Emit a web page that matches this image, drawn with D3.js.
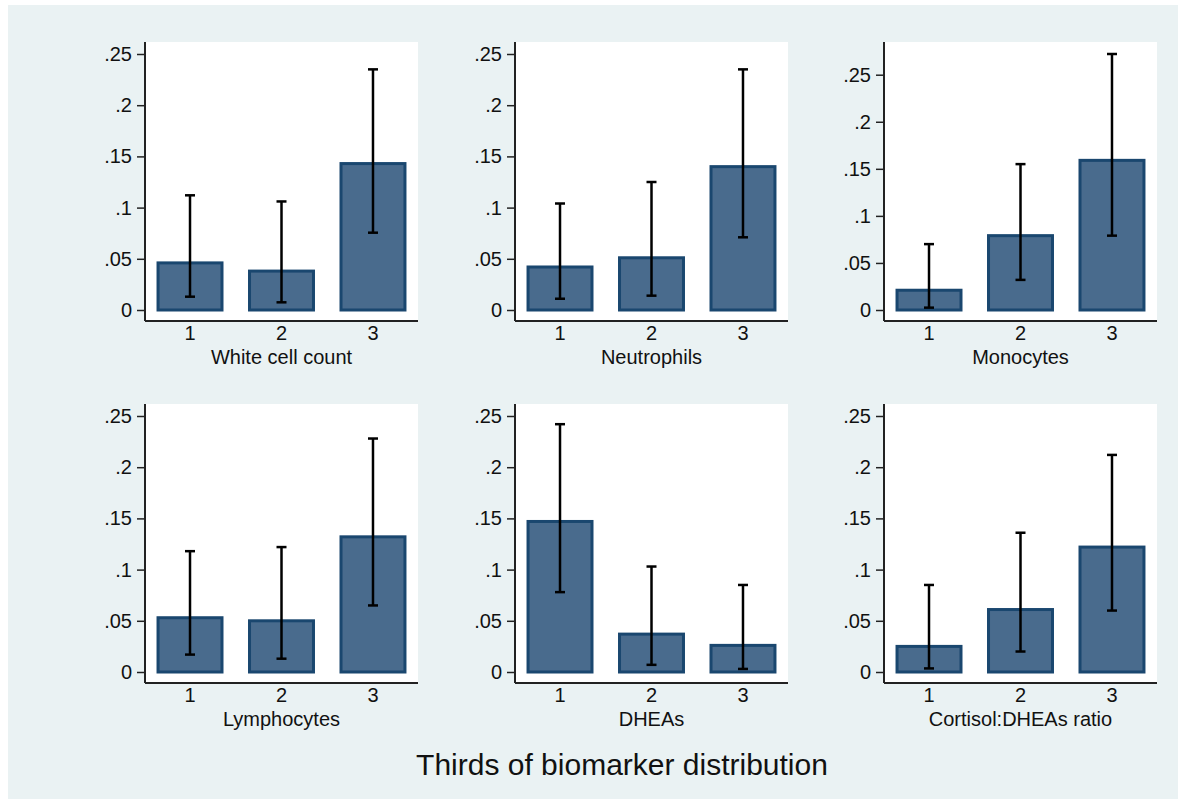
<!DOCTYPE html>
<html>
<head>
<meta charset="utf-8">
<style>
  body { margin: 0; background: #fff; }
  svg { display: block; font-family: "Liberation Sans", Arial, sans-serif; }
</style>
</head>
<body>
<svg width="1178" height="800"></svg>
<script src="https://d3js.org/d3.v7.min.js"></script>
<script>

    // data
    var thirds = ["1", "2", "3"];
    var panelTitles = ["White cell count", "Neutrophils", "Monocytes",
                       "Lymphocytes", "DHEAs", "Cortisol:DHEAs ratio"];
    var means = [
        [0.046, 0.038, 0.143],
        [0.042, 0.051, 0.140],
        [0.021, 0.079, 0.159],
        [0.053, 0.050, 0.132],
        [0.147, 0.037, 0.026],
        [0.025, 0.061, 0.122]
    ];
    var lower = [
        [0.013, 0.0075, 0.0755],
        [0.011, 0.014, 0.071],
        [0.0025, 0.032, 0.079],
        [0.017, 0.013, 0.065],
        [0.078, 0.007, 0.003],
        [0.0035, 0.020, 0.060]
    ];
    var upper = [
        [0.112, 0.106, 0.235],
        [0.104, 0.125, 0.235],
        [0.070, 0.155, 0.272],
        [0.118, 0.122, 0.228],
        [0.242, 0.103, 0.085],
        [0.085, 0.136, 0.212]
    ];
    var yTicks = [0, 0.05, 0.1, 0.15, 0.2, 0.25];
    var xTitle = "Thirds of biomarker distribution";

    var svg = d3.select("svg"),
        width = +svg.attr("width"),
        height = +svg.attr("height");

    var fillColor = "#496b8d",
        lineColor = "#1a476f";

    // graph region
    svg.append("rect")
        .attr("x", 8).attr("y", 5)
        .attr("width", width - 8).attr("height", height - 6)
        .attr("fill", "#eaf2f3");

    var colLeft = [145, 515, 884],
        rowTop = [42, 404],
        plotW = 273,
        plotH = 279,
        fs = 20;

    var fmt = function(d) { return d === 0 ? "0" : d3.format(".2~f")(d).replace(/^0/, ""); };

    panelTitles.forEach(function(title, i) {
        var left = colLeft[i % 3],
            top = rowTop[Math.floor(i / 3)];

        var g = svg.append("g")
            .attr("transform", "translate(" + left + "," + top + ")");

        g.append("rect")
            .attr("width", plotW).attr("height", plotH)
            .attr("fill", "#fff");

        var yMax = Math.max(0.25, d3.max(upper[i]));
        var y = d3.scaleLinear()
            .domain([0, yMax])
            .range([268, 12]);

        var x = d3.scaleBand()
            .domain(thirds)
            .range([0, plotW])
            .paddingInner(0.268)
            .paddingOuter(0.126);

        var rows = thirds.map(function(t, j) {
            return {t: t, m: means[i][j], lo: lower[i][j], hi: upper[i][j]};
        });

        g.selectAll(".bar")
            .data(rows)
            .enter().append("rect")
            .attr("class", "bar")
            .attr("x", function(d) { return x(d.t) + 1.5; })
            .attr("width", x.bandwidth() - 3)
            .attr("y", function(d) { return y(d.m); })
            .attr("height", function(d) { return y(0) - y(d.m); })
            .attr("fill", fillColor)
            .attr("stroke", lineColor)
            .attr("stroke-width", 3);

        var err = g.selectAll(".err")
            .data(rows)
            .enter().append("g")
            .attr("class", "err")
            .attr("stroke", "#000")
            .attr("stroke-width", 2.5);

        err.append("line")
            .attr("x1", function(d) { return x(d.t) + x.bandwidth() / 2; })
            .attr("x2", function(d) { return x(d.t) + x.bandwidth() / 2; })
            .attr("y1", function(d) { return y(d.lo); })
            .attr("y2", function(d) { return y(d.hi); });

        ["lo", "hi"].forEach(function(k) {
            err.append("line")
                .attr("x1", function(d) { return x(d.t) + x.bandwidth() / 2 - 5; })
                .attr("x2", function(d) { return x(d.t) + x.bandwidth() / 2 + 5; })
                .attr("y1", function(d) { return y(d[k]); })
                .attr("y2", function(d) { return y(d[k]); });
        });

        // y axis
        var yAxis = g.append("g")
            .call(d3.axisLeft(y).tickValues(yTicks).tickFormat(fmt).tickSize(8).tickPadding(5));
        yAxis.select(".domain")
            .attr("d", "M0,0V" + plotH)
            .attr("stroke", "#222").attr("stroke-width", 2);
        yAxis.selectAll(".tick line").attr("stroke", "#222").attr("stroke-width", 1.5);
        yAxis.selectAll("text")
            .attr("font-size", fs).attr("fill", "#111")
            .attr("font-family", "Liberation Sans, Arial, sans-serif");

        // x axis
        var xAxis = g.append("g")
            .attr("transform", "translate(0," + plotH + ")")
            .call(d3.axisBottom(x).tickSize(0).tickPadding(5));
        xAxis.select(".domain")
            .attr("d", "M0,0H" + plotW)
            .attr("stroke", "#222").attr("stroke-width", 2);
        xAxis.selectAll("text")
            .attr("font-size", fs).attr("fill", "#111")
            .attr("font-family", "Liberation Sans, Arial, sans-serif");

        g.append("text")
            .attr("x", plotW / 2)
            .attr("y", plotH + 43)
            .attr("text-anchor", "middle")
            .attr("font-size", fs)
            .attr("fill", "#111")
            .text(title);
    });

    svg.append("text")
        .attr("x", 622)
        .attr("y", 775)
        .attr("text-anchor", "middle")
        .attr("font-size", 30)
        .attr("fill", "#111")
        .text(xTitle);

</script>
</body>
</html>
